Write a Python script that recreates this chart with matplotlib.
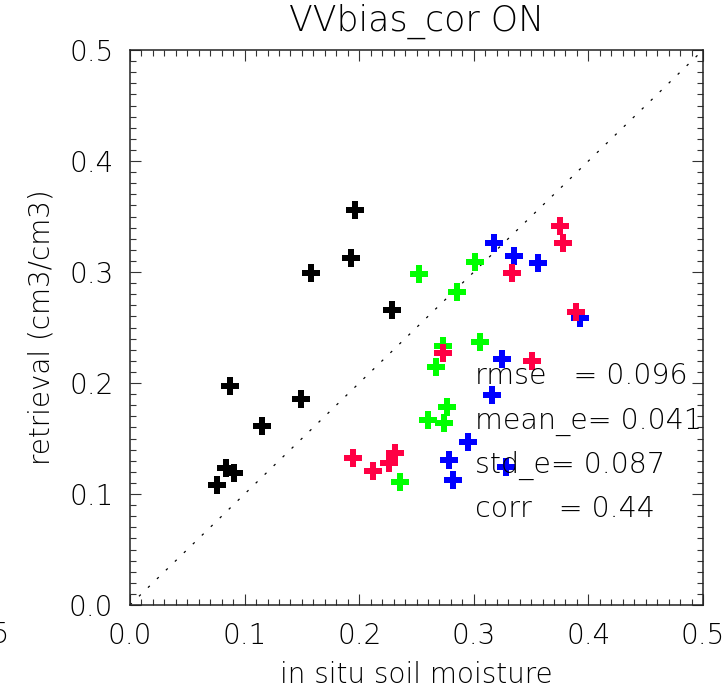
import matplotlib
matplotlib.use('Agg')
import matplotlib.pyplot as plt
from matplotlib.ticker import MultipleLocator, FormatStrFormatter

# soil moisture scatter, one group per colour
black_x = [0.196, 0.193, 0.158, 0.229, 0.087, 0.149, 0.115, 0.084, 0.091, 0.076]
black_y = [0.356, 0.313, 0.299, 0.266, 0.197, 0.186, 0.161, 0.123, 0.119, 0.108]
green_x = [0.252, 0.301, 0.285, 0.273, 0.305, 0.267, 0.277, 0.260, 0.274, 0.236]
green_y = [0.298, 0.309, 0.282, 0.233, 0.237, 0.214, 0.178, 0.167, 0.164, 0.111]
blue_x = [0.318, 0.335, 0.356, 0.393, 0.325, 0.316, 0.295, 0.278, 0.282, 0.328]
blue_y = [0.326, 0.314, 0.308, 0.259, 0.222, 0.189, 0.147, 0.131, 0.113, 0.124]
red_x = [0.375, 0.378, 0.333, 0.389, 0.273, 0.351, 0.195, 0.212, 0.226, 0.231]
red_y = [0.341, 0.326, 0.299, 0.264, 0.227, 0.220, 0.132, 0.121, 0.128, 0.137]

stats_labels = ['rmse   = 0.096', 'mean_e= 0.041', 'std_e= 0.087', 'corr   = 0.44']
stats_y = [0.199, 0.159, 0.119, 0.079]

plt.rcParams['font.family'] = ['DejaVu Sans']
plt.rcParams['font.weight'] = 'light'
plt.rcParams['axes.titleweight'] = 'light'
plt.rcParams['axes.labelweight'] = 'light'

fig = plt.figure(figsize=(7.25, 6.91), dpi=100)
ax = fig.add_axes([130/725, 86/691, 573/725, 555/691])

ax.plot([0, 0.5], [0, 0.5], color='black', linewidth=0.9, linestyle=(0, (2, 8)), zorder=1)

groups = [(black_x, black_y, 'black'), (green_x, green_y, '#00ff00'),
          (blue_x, blue_y, '#0000ff'), (red_x, red_y, '#ff0044')]
for gx, gy, c in groups:
    ax.plot(gx, gy, linestyle='none', marker='P', markersize=13.5,
            markerfacecolor=c, markeredgewidth=0, zorder=3)

for lbl, yy in zip(stats_labels, stats_y):
    ax.text(0.301, yy, lbl, fontsize=20.5, va='baseline', ha='left',
            color='black', clip_on=True, zorder=5)

ax.set_xlim(0, 0.5)
ax.set_ylim(0, 0.5)
ax.xaxis.set_major_locator(MultipleLocator(0.1))
ax.yaxis.set_major_locator(MultipleLocator(0.1))
ax.xaxis.set_minor_locator(MultipleLocator(0.01))
ax.yaxis.set_minor_locator(MultipleLocator(0.01))
ax.xaxis.set_major_formatter(FormatStrFormatter('%.1f'))
ax.yaxis.set_major_formatter(FormatStrFormatter('%.1f'))
ax.tick_params(which='both', direction='in', top=True, right=True, width=0.8, color='#333333')
ax.tick_params(which='major', length=8, labelsize=20, pad=12)
ax.tick_params(which='minor', length=4)
for s in ax.spines.values():
    s.set_linewidth(1.1)
    s.set_color('#222222')

ax.set_xlabel('in situ soil moisture', fontsize=20, labelpad=8)
ax.set_ylabel('retrieval (cm3/cm3)', fontsize=20, labelpad=10)
ax.set_title('VVbias_cor ON', fontsize=25, pad=14)

# edge of the neighbouring panel's tick label
fig.text(10/725, 1 - 635/691, '0.5', fontsize=20, ha='right', va='center')

fig.savefig('out.png', dpi=100)
